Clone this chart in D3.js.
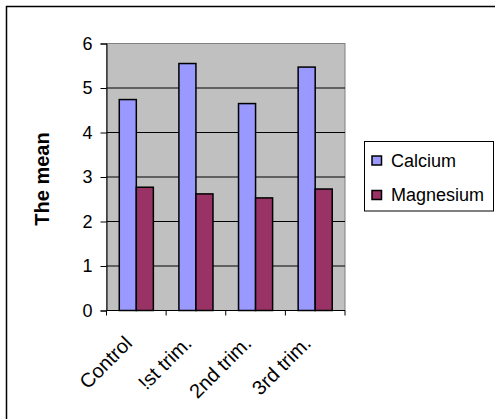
<!DOCTYPE html>
<html>
<head>
<meta charset="utf-8">
<script src="https://cdn.jsdelivr.net/npm/d3@7"></script>
<style>
  body { margin: 0; background: #fff; }
  text { font-family: "Liberation Sans", Arial, sans-serif; }
</style>
</head>
<body>
<div id="chart"></div>
<script>
// chart data
const categories = ["Control", "!st trim.", "2nd trim.", "3rd trim."];
const seriesNames = ["Calcium", "Magnesium"];
const calcium = [4.74, 5.55, 4.65, 5.47];
const magnesium = [2.77, 2.62, 2.53, 2.73];
const yTicks = [0, 1, 2, 3, 4, 5, 6];
const colors = ["#9999ff", "#993366"];

const width = 495, height = 419;
// plot area
const plotL = 106.5, plotR = 345, plotT = 43.5, plotB = 310.5;

const svg = d3.select("#chart")
  .append("svg")
  .attr("width", width)
  .attr("height", height);

// outer chart border (runs off the right and bottom edges)
svg.append("rect")
  .attr("x", 6.5).attr("y", 6.5)
  .attr("width", 520).attr("height", 440)
  .attr("fill", "none")
  .attr("stroke", "#000")
  .attr("stroke-width", 1.5);

const y = d3.scaleLinear().domain([0, 6]).range([plotB, plotT]);

const x0 = d3.scaleBand()
  .domain(categories)
  .range([plotL, plotR])
  .paddingInner(0).paddingOuter(0);

// two bars in each category, 0.75 step of space each side
const x1 = d3.scaleBand()
  .domain(seriesNames)
  .range([0, x0.bandwidth()])
  .paddingInner(0).paddingOuter(0.75);

// plot background
svg.append("rect")
  .attr("x", plotL).attr("y", plotT)
  .attr("width", plotR - plotL).attr("height", plotB - plotT)
  .attr("fill", "#c0c0c0")
  .attr("stroke", "#808080")
  .attr("stroke-width", 1);

// gridlines
svg.append("g")
  .selectAll("line")
  .data(yTicks.filter(d => d > 0 && d < 6))
  .enter()
  .append("line")
  .attr("x1", plotL).attr("x2", plotR)
  .attr("y1", d => y(d)).attr("y2", d => y(d))
  .attr("stroke", "#000")
  .attr("stroke-width", 1);

// bars
const rows = categories.map((c, i) => ({ cat: c, values: [calcium[i], magnesium[i]] }));

const groups = svg.append("g")
  .selectAll("g")
  .data(rows)
  .enter()
  .append("g")
  .attr("transform", d => "translate(" + x0(d.cat) + ",0)");

groups.selectAll("rect")
  .data(d => d.values.map((v, j) => ({ key: seriesNames[j], value: v, j: j })))
  .enter()
  .append("rect")
  .attr("x", d => x1(d.key))
  .attr("width", x1.bandwidth())
  .attr("y", d => y(d.value))
  .attr("height", d => y(0) - y(d.value))
  .attr("fill", d => colors[d.j])
  .attr("stroke", "#000")
  .attr("stroke-width", 1.5);

// y axis
const yAxis = svg.append("g")
  .attr("transform", "translate(" + plotL + ",0)")
  .call(d3.axisLeft(y).tickValues(yTicks).tickSize(6).tickPadding(8).tickFormat(d3.format("d")));
yAxis.select(".domain").attr("stroke", "#000").attr("stroke-width", 1);
yAxis.selectAll(".tick line").attr("stroke", "#000");
yAxis.selectAll(".tick text")
  .attr("font-size", 18)
  .attr("font-family", "Liberation Sans, Arial, sans-serif")
  .attr("fill", "#000");

// x axis: ticks at category boundaries
const boundaries = categories.map(c => x0(c)).concat([plotR]);
svg.append("line")
  .attr("x1", plotL).attr("x2", plotR)
  .attr("y1", plotB).attr("y2", plotB)
  .attr("stroke", "#000");
svg.append("g")
  .selectAll("line")
  .data(boundaries)
  .enter()
  .append("line")
  .attr("x1", d => d).attr("x2", d => d)
  .attr("y1", plotB).attr("y2", plotB + 5)
  .attr("stroke", "#000");

svg.append("g")
  .selectAll("text")
  .data(categories)
  .enter()
  .append("text")
  .attr("transform", d => "translate(" + (x0(d) + x0.bandwidth() / 2 - 3) + "," + (plotB + 34) + ") rotate(-45)")
  .attr("text-anchor", "end")
  .attr("font-size", 20)
  .attr("fill", "#000")
  .text(d => d);

// y title
svg.append("text")
  .attr("transform", "translate(49," + ((plotT + plotB) / 2 + 2) + ") rotate(-90)")
  .attr("text-anchor", "middle")
  .attr("font-size", 20)
  .attr("font-weight", "bold")
  .attr("fill", "#000")
  .text("The mean");

// legend
const legend = svg.append("g");
legend.append("rect")
  .attr("x", 364.5).attr("y", 141.5)
  .attr("width", 129).attr("height", 69.5)
  .attr("fill", "#fff")
  .attr("stroke", "#000")
  .attr("stroke-width", 1);

const items = legend.selectAll("g")
  .data(seriesNames)
  .enter()
  .append("g")
  .attr("transform", (d, i) => "translate(0," + (i * 34.5) + ")");
items.append("rect")
  .attr("x", 372).attr("y", 156)
  .attr("width", 9.5).attr("height", 9)
  .attr("fill", (d, i) => colors[i])
  .attr("stroke", "#000")
  .attr("stroke-width", 1.5);
items.append("text")
  .attr("x", 391).attr("y", 166.5)
  .attr("font-size", 18)
  .attr("fill", "#000")
  .text(d => d);
</script>
</body>
</html>
